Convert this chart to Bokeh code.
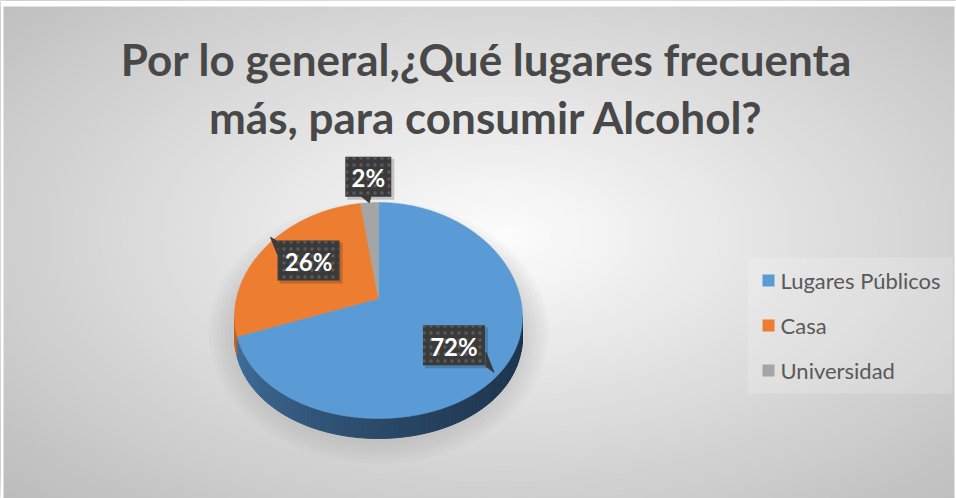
import numpy as np
from bokeh.plotting import figure
from bokeh.models import Range1d
from bokeh.core.properties import value
from bokeh.embed import file_html
from bokeh.resources import INLINE

# ---------------- data ----------------
title_lines = ["Por lo general,¿Qué lugares frecuenta", "más, para consumir Alcohol?"]
categories = ["Lugares Públicos", "Casa", "Universidad"]
percent = [72, 26, 2]
pct_labels = ["72%", "26%", "2%"]

# ---------------- style ----------------
slice_colors = ["#5B9BD5", "#ED7D31", "#A5A5A5"]
side_light = [(66, 113, 158), (192, 100, 35), (130, 130, 130)]
side_dark = [(30, 53, 78), (140, 70, 20), (100, 100, 100)]
text_color = "#484848"
FONT = "Lato"

W, H = 956, 498
X0, X1, Y0, Y1 = 0, 956, 0, 498
CHART_L, CHART_R, CHART_T = 3, 954, 6

p = figure(width=W, height=H, x_range=Range1d(X0, X1), y_range=Range1d(Y1, Y0),
           output_backend="svg", toolbar_location=None, min_border=0,
           x_axis_location=None, y_axis_location=None)
p.grid.visible = False
p.outline_line_color = None
p.background_fill_color = "white"
p.border_fill_color = "white"


def hexc(c):
    return "#%02x%02x%02x" % tuple(int(round(v)) for v in c)


# ---------------- background radial gradient ----------------
gcx, gcy = 500, 235
hw, hh = 494, 265
c_in = np.array([253, 253, 253])
c_out = np.array([188, 188, 188])
NG = 70
ts = np.linspace(1.0, 1.0 / NG, NG)
p.ellipse(x=[gcx] * NG, y=[gcy] * NG,
          width=list(2 * hw * 1.415 * ts), height=list(2 * hh * 1.415 * ts),
          fill_color=[hexc(c_in + (c_out - c_in) * t) for t in ts], line_color=None)
# white page around the chart area
p.quad(left=[X0, X0, CHART_R], right=[X1, CHART_L, X1], top=[Y0, Y0, Y0], bottom=[CHART_T, Y1, Y1],
       fill_color="white", line_color=None)

# ---------------- pie geometry ----------------
CX, CYA = 378, 298     # apex of the slices
RX = 144
DEPTH = 20


def rim(theta_deg):
    t = np.radians(theta_deg)
    return CX + RX * np.sin(t), 316 - 108 * np.cos(t) - 6 * np.cos(t) ** 2


total = float(sum(percent))
starts, ends = [], []
acc = 0.0
for v in percent:
    starts.append(acc / total * 360)
    acc += v
    ends.append(acc / total * 360)

# soft shadow
for k in range(6):
    p.ellipse(x=CX, y=332, width=300 + 8 * k, height=222 + 8 * k,
              fill_color="#7f7f7f", fill_alpha=0.04, line_color=None)

# 3D side (front half, theta 90..270)
side_xs, side_ys, side_cols = [], [], []
NS = 90
thetas = np.linspace(90, 270, NS + 1)
for a, b in zip(thetas[:-1], thetas[1:]):
    m = (a + b) / 2
    idx = 0
    for i in range(len(percent)):
        if starts[i] <= m < ends[i]:
            idx = i
    xa, ya = rim(a)
    xb, yb = rim(b)
    xm, _ = rim(m)
    frac = (xm - (CX - RX)) / (2 * RX)
    f = frac ** 0.6
    col = np.array(side_light[idx]) + (np.array(side_dark[idx]) - np.array(side_light[idx])) * f
    side_xs.append([xa, xb, xb, xa])
    side_ys.append([ya, yb, yb + DEPTH, ya + DEPTH])
    side_cols.append(hexc(col))
p.patches(xs=side_xs, ys=side_ys, fill_color=side_cols, line_color=side_cols, line_width=1)

# top face
top_xs, top_ys = [], []
for s, e in zip(starts, ends):
    th = np.linspace(s, e, max(3, int((e - s) * 2)))
    rx_, ry_ = rim(th)
    top_xs.append([CX] + list(rx_))
    top_ys.append([CYA] + list(ry_))
p.patches(xs=top_xs, ys=top_ys, fill_color=slice_colors, line_color=slice_colors, line_width=0.5)

# ---------------- data labels (callouts) ----------------
label_radial = [0.68, 0.60, 1.13]
pointer_style = [  # tip offset, base offsets relative to box center
    ((40, 27), (32, 7), (32, 21)),
    ((-38, -23), (-31, -19), (-31, -6)),
    ((1, 26), (-9, 18), (3, 18)),
]
for i, lab in enumerate(pct_labels):
    m = np.radians((starts[i] + ends[i]) / 2)
    bx = CX + label_radial[i] * RX * np.sin(m)
    by = CYA - label_radial[i] * 108 * np.cos(m)
    bw = 14 + 16 * len(lab)
    bh = 40
    # shadow
    p.quad(left=bx - bw / 2 + 2, right=bx + bw / 2 + 3, top=by - bh / 2 + 2, bottom=by + bh / 2 + 3,
           fill_color="#000000", fill_alpha=0.18, line_color=None)
    tip, b1, b2 = pointer_style[i]
    p.patch(x=[bx + tip[0], bx + b1[0], bx + b2[0]], y=[by + tip[1], by + b1[1], by + b2[1]],
            fill_color="#3A3A3A", line_color="#3A3A3A")
    p.quad(left=bx - bw / 2, right=bx + bw / 2, top=by - bh / 2, bottom=by + bh / 2,
           fill_color="#3A3A3A", line_color=None,
           hatch_pattern="dot", hatch_color="#5A5A5A", hatch_scale=7, hatch_weight=1.2)
    p.text(x=[bx], y=[by + 1], text=[lab], text_font=value(FONT), text_font_style="bold",
           text_font_size="24px", text_color="white", text_align="center", text_baseline="middle")

# ---------------- title ----------------
p.text(x=[486, 486], y=[58, 116], text=title_lines, text_font=value(FONT), text_font_style="bold",
       text_font_size="44px", text_color=text_color, text_align="center", text_baseline="middle")

# ---------------- legend ----------------
p.quad(left=747, right=952, top=257, bottom=393, fill_color="white", fill_alpha=0.18, line_color=None)
leg_y = [280 + 45 * i for i in range(len(categories))]
p.rect(x=[768] * len(categories), y=leg_y, width=12, height=12, fill_color=slice_colors, line_color=None)
p.text(x=[780] * len(categories), y=leg_y, text=categories, text_font=value(FONT),
       text_font_size="22px", text_color="#595959", text_align="left", text_baseline="middle")

open("out.html", "w").write(file_html(p, INLINE))
